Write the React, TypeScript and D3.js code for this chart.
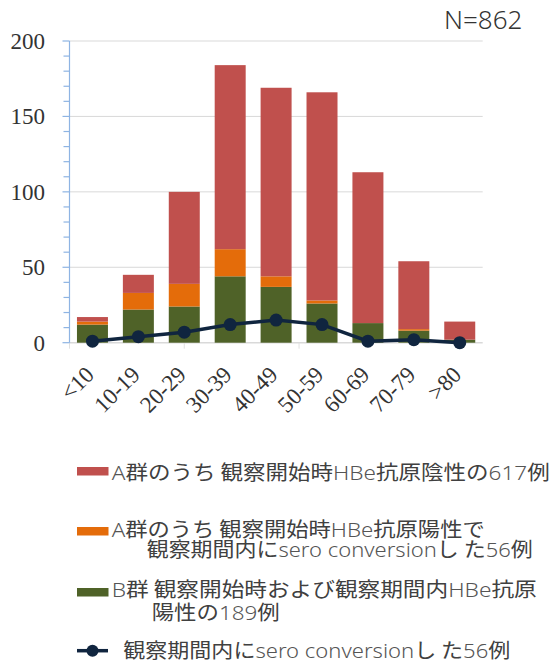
import React from "react";
import * as d3 from "d3";

const categories = ["<10", "10-19", "20-29", "30-39", "40-49", "50-59", "60-69", "70-79", ">80"];
const groupB = [12, 22, 24, 44, 37, 26, 13, 8, 2];
const groupAPos = [2, 11, 15, 18, 7, 2, 0, 1, 0];
const groupANeg = [3, 12, 61, 122, 125, 138, 100, 45, 12];
const seroLine = [1, 4, 7, 12, 15, 12, 1, 2, 0];
const yTicks = [0, 50, 100, 150, 200];

const COLORS = { red: "#C0504D", orange: "#E46C0A", green: "#4F6228", line: "#10253F" };

export default function App() {
  const W = 552, H = 663;
  const x = d3.scaleBand<string>().domain(categories).range([69.5, 482.7]).paddingInner(0.325).paddingOuter(0.1625);
  const y = d3.scaleLinear().domain([0, 200]).range([342.7, 41]);
  const minor = d3.range(0, 201, 10);
  const series = [
    { key: "B", vals: groupB, color: COLORS.green },
    { key: "Apos", vals: groupAPos, color: COLORS.orange },
    { key: "Aneg", vals: groupANeg, color: COLORS.red },
  ];
  const rects: JSX.Element[] = [];
  categories.forEach((c, i) => {
    let base = 0;
    series.forEach((s) => {
      const v = s.vals[i];
      if (v > 0) {
        rects.push(
          <rect key={c + s.key} x={x(c)} width={x.bandwidth()} y={y(base + v)} height={y(base) - y(base + v)} fill={s.color} />
        );
      }
      base += v;
    });
  });
  const cx = (c: string) => (x(c) as number) + x.bandwidth() / 2;
  const lineGen = d3.line<number>().x((_, i) => cx(categories[i])).y((d) => y(d));
  const step = x.step();
  const x0 = x.range()[0];
  const xTickPos = [0, 2.5, 5].map((k) => x0 + k * step);

  const jp = "'Noto Sans CJK JP', 'Noto Sans', sans-serif";
  const lat = { fontFamily: "'Noto Sans', sans-serif", fill: "#555", fontWeight: 300 } as any;
  const txt = { fontFamily: jp, fontSize: 20, fill: "#404040" } as any;

  return (
    <svg width={W} height={H} style={{ position: "absolute", left: 0, top: 0, background: "#fff" }}>
      {yTicks.filter((t) => t > 0).map((t) => (
        <line key={"g" + t} x1={x0} x2={x.range()[1]} y1={y(t)} y2={y(t)} stroke="#D9D9D9" strokeWidth={1} />
      ))}
      <line x1={x0} x2={x.range()[1]} y1={y(0)} y2={y(0)} stroke="#D9D9D9" strokeWidth={1.5} />
      {xTickPos.map((p, i) => (
        <line key={"xt" + i} x1={p} x2={p} y1={y(0)} y2={y(0) + 6} stroke="#E0E0E0" strokeWidth={1} />
      ))}
      <line x1={x0} x2={x0} y1={y(200)} y2={y(0)} stroke="#8EB4E3" strokeWidth={1.2} />
      {minor.map((t) => (
        <line key={"yt" + t} x1={t % 50 === 0 ? x0 - 7 : x0 - 6} x2={x0} y1={y(t)} y2={y(t)} stroke="#8EB4E3" strokeWidth={1.2} />
      ))}
      {yTicks.map((t) => (
        <text key={"yl" + t} x={45} y={y(t)} dy="0.35em" textAnchor="end" fontFamily="'Liberation Serif', serif" fontSize={23} fill="#333">
          {t}
        </text>
      ))}
      {rects}
      <path d={lineGen(seroLine) || ""} fill="none" stroke={COLORS.line} strokeWidth={3.5} />
      {seroLine.map((v, i) => (
        <circle key={"d" + i} cx={cx(categories[i])} cy={y(v)} r={6.5} fill={COLORS.line} />
      ))}
      {categories.map((c) => (
        <text key={"xl" + c} transform={`translate(${cx(c) + 3},${376}) rotate(-45)`} textAnchor="end" fontFamily="'Liberation Serif', serif" fontSize={23} fill="#333">
          {c}
        </text>
      ))}
      <text x={444} y={28.5} fontFamily="'Noto Sans', sans-serif" fontWeight={300} fontSize={26} fill="#333">N=862</text>

      <rect x={77} y={467} width={31.5} height={8.5} fill={COLORS.red} />
      <text x={111.7} y={479.5} {...txt} textLength={438} lengthAdjust="spacingAndGlyphs">
        <tspan {...lat}>A</tspan>群のうち 観察開始時<tspan {...lat}>HBe</tspan>抗原陰性の<tspan {...lat}>617</tspan>例
      </text>

      <rect x={77} y={527} width={31.5} height={8.5} fill={COLORS.orange} />
      <text x={111.7} y={537} {...txt} textLength={373} lengthAdjust="spacingAndGlyphs">
        <tspan {...lat}>A</tspan>群のうち 観察開始時<tspan {...lat}>HBe</tspan>抗原陽性で
      </text>
      <text x={146.7} y={557} {...txt} textLength={386} lengthAdjust="spacingAndGlyphs">
        観察期間内に<tspan {...lat}>sero conversion</tspan>し た<tspan {...lat}>56</tspan>例
      </text>

      <rect x={77} y={588} width={31.5} height={8.5} fill={COLORS.green} />
      <text x={111.7} y={597} {...txt} textLength={425} lengthAdjust="spacingAndGlyphs">
        <tspan {...lat}>B</tspan>群 観察開始時および観察期間内<tspan {...lat}>HBe</tspan>抗原
      </text>
      <text x={151.7} y={619.5} {...txt} textLength={128} lengthAdjust="spacingAndGlyphs">
        陽性の<tspan {...lat}>189</tspan>例
      </text>

      <line x1={77} x2={108} y1={650.7} y2={650.7} stroke={COLORS.line} strokeWidth={3.5} />
      <circle cx={92.5} cy={650.7} r={6} fill={COLORS.line} />
      <text x={123.3} y={657.5} {...txt} textLength={387} lengthAdjust="spacingAndGlyphs">
        観察期間内に<tspan {...lat}>sero conversion</tspan>し た<tspan {...lat}>56</tspan>例
      </text>
    </svg>
  );
}
